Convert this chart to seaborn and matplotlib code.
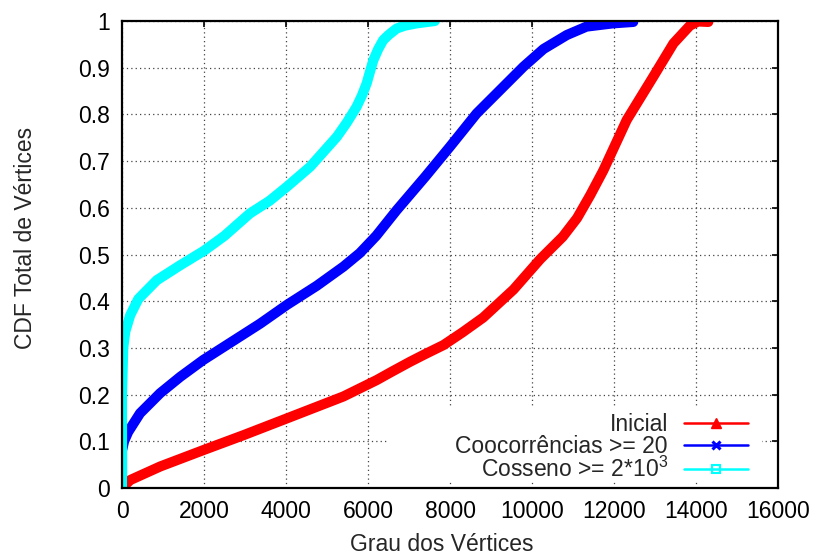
import matplotlib
matplotlib.use("Agg")
import matplotlib.pyplot as plt
import pandas as pd
import seaborn as sns
from matplotlib.lines import Line2D
from matplotlib.patches import Rectangle

# ---- data ----
inicial_x = [0, 200, 930, 1980, 2960, 4020, 5400, 6210, 6600, 7020, 7400, 7840, 8300, 8810,
             9550, 10200, 10750, 11100, 11420, 11740, 12310, 12960, 13450, 13850, 14050, 14300]
inicial_y = [0, 0.017, 0.046, 0.081, 0.113, 0.149, 0.196, 0.231, 0.25, 0.27, 0.287, 0.306, 0.333, 0.365,
             0.425, 0.49, 0.538, 0.578, 0.627, 0.68, 0.788, 0.881, 0.952, 0.99, 0.999, 0.998]

cooc_x = [0, 0, 50, 150, 440, 930, 1420, 1980, 2800, 3370, 4020, 4750, 5400, 5800, 6200,
          6700, 7400, 8000, 8650, 9220, 9790, 10280, 10850, 11330, 11980, 12470]
cooc_y = [0, 0.08, 0.10, 0.12, 0.16, 0.203, 0.238, 0.274, 0.32, 0.352, 0.392, 0.433, 0.474,
          0.503, 0.54, 0.595, 0.667, 0.731, 0.802, 0.852, 0.902, 0.94, 0.97, 0.988, 0.995, 0.998]

cos_x = [0, 0, 30, 80, 200, 400, 850, 1420, 2000, 2500, 3120, 3600, 4020, 4590, 5240, 5480,
         5720, 5850, 5970, 6050, 6130, 6250, 6370, 6500, 6700, 6900, 7190, 7630]
cos_y = [0, 0.20, 0.30, 0.335, 0.37, 0.405, 0.445, 0.477, 0.508, 0.54, 0.588, 0.615, 0.645, 0.688,
         0.752, 0.782, 0.816, 0.840, 0.867, 0.892, 0.916, 0.940, 0.959, 0.970, 0.984, 0.99, 0.995, 1.0]

series_names = ["Inicial", "Coocorrências >= 20", r"Cosseno >= 2*10$^3$"]
series_colors = ["#ff0000", "#0000ff", "#00ffff"]
series_markers = ["^", "x", "s"]

x_ticks = [0, 2000, 4000, 6000, 8000, 10000, 12000, 14000, 16000]
y_ticks = [0, 0.1, 0.2, 0.3, 0.4, 0.5, 0.6, 0.7, 0.8, 0.9, 1.0]
y_tick_labels = ["0", "0.1", "0.2", "0.3", "0.4", "0.5", "0.6", "0.7", "0.8", "0.9", "1"]

x_label = "Grau dos Vértices"
y_label = "CDF Total de Vértices"

# ---- style ----
sns.set_style("white")
plt.rcParams["font.family"] = ["Liberation Sans", "DejaVu Sans"]
plt.rcParams["mathtext.fontset"] = "custom"
plt.rcParams["mathtext.rm"] = "Liberation Sans"
plt.rcParams["mathtext.it"] = "Liberation Sans:italic"

FS = 16.5

df = pd.concat([
    pd.DataFrame({"x": inicial_x, "y": inicial_y, "serie": series_names[0]}),
    pd.DataFrame({"x": cooc_x, "y": cooc_y, "serie": series_names[1]}),
    pd.DataFrame({"x": cos_x, "y": cos_y, "serie": series_names[2]}),
], ignore_index=True)

W, H = 817, 558
L, R, T, B = 122, 778, 21, 488
fig = plt.figure(figsize=(W / 100, H / 100), dpi=100)
ax = fig.add_axes([L / W, 1 - B / H, (R - L) / W, (B - T) / H])

sns.lineplot(data=df, x="x", y="y", hue="serie", hue_order=series_names,
             palette=dict(zip(series_names, series_colors)), estimator=None, sort=False,
             linewidth=7.3, legend=False, ax=ax, solid_capstyle="round", solid_joinstyle="round")

ax.set_xlim(0, 16000)
ax.set_ylim(0, 1)
ax.set_xticks(x_ticks)
ax.set_xticklabels([str(v) for v in x_ticks])
ax.set_yticks(y_ticks)
ax.set_yticklabels(y_tick_labels)

ax.set_axisbelow(True)
ax.grid(True, linestyle=(0, (1, 2.5)), color="#444444", linewidth=0.9)

for sp in ax.spines.values():
    sp.set_visible(True)
    sp.set_color("black")
    sp.set_linewidth(1.6)

ax.tick_params(axis="both", which="major", direction="in", length=4.5, width=1.2,
               top=True, right=True, labelsize=FS, colors="black")
ax.tick_params(axis="x", pad=9)
ax.tick_params(axis="y", pad=9)

ax.set_xlabel(x_label, fontsize=FS)
ax.set_ylabel(y_label, fontsize=FS)
ax.xaxis.set_label_coords((442 - L) / (R - L), -0.097)
ax.yaxis.set_label_coords(-0.13, (B - 238) / (B - T))

# opaque key area (hides grid behind the legend, like the original)
ax.add_patch(Rectangle(((388 - L) / (R - L), (B - 482) / (B - T)),
                       (762 - 388) / (R - L), (482 - 407) / (B - T),
                       transform=ax.transAxes, facecolor="white", edgecolor="none", zorder=1))

handles = []
for c, m in zip(series_colors, series_markers):
    if m == "s":
        h = Line2D([], [], color=c, lw=1.8, marker=m, ms=6, mfc="none", mec=c, mew=1.5)
    elif m == "x":
        h = Line2D([], [], color=c, lw=1.8, marker=m, ms=6, mec=c, mew=2.2)
    else:
        h = Line2D([], [], color=c, lw=1.8, marker=m, ms=7, mfc=c, mec=c)
    handles.append(h)

leg = ax.legend(handles, series_names, loc="lower right",
                bbox_to_anchor=((748 - L) / (R - L), 0.012), frameon=False,
                markerfirst=False, fontsize=FS, handlelength=2.8, handletextpad=0.7,
                labelspacing=-0.05, borderpad=0, borderaxespad=0)
for t in leg.get_texts():
    t.set_ha("right")

fig.savefig("out.png", dpi=100)
